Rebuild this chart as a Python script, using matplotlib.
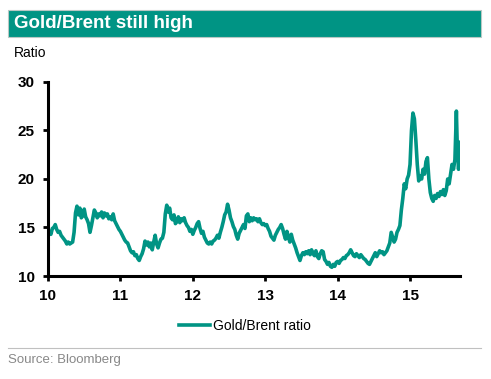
import matplotlib
matplotlib.use("Agg")
import matplotlib.pyplot as plt
from matplotlib.patches import Rectangle
from matplotlib.lines import Line2D

plt.rcParams["font.family"] = ["Liberation Sans", "DejaVu Sans"]

TEAL = "#009484"

years = [
    10.00, 10.02, 10.04, 10.06, 10.08, 10.10, 10.12, 10.14, 10.16, 10.18,
    10.20, 10.22, 10.24, 10.26, 10.28, 10.30, 10.32, 10.34, 10.36, 10.38,
    10.40, 10.42, 10.44, 10.46, 10.48, 10.50, 10.52, 10.54, 10.56, 10.58,
    10.60, 10.62, 10.64, 10.66, 10.68, 10.70, 10.72, 10.74, 10.76, 10.78,
    10.80, 10.82, 10.84, 10.86, 10.88, 10.90, 10.92, 10.94, 10.96, 10.98,
    11.00, 11.02, 11.04, 11.06, 11.08, 11.10, 11.12, 11.14, 11.16, 11.18,
    11.20, 11.22, 11.24, 11.26, 11.28, 11.30, 11.32, 11.34, 11.36, 11.38,
    11.40, 11.42, 11.44, 11.46, 11.48, 11.50, 11.52, 11.54, 11.56, 11.58,
    11.60, 11.62, 11.64, 11.66, 11.68, 11.70, 11.72, 11.74, 11.76, 11.78,
    11.80, 11.82, 11.84, 11.86, 11.88, 11.90, 11.92, 11.94, 11.96, 11.98,
    12.00, 12.02, 12.04, 12.06, 12.08, 12.10, 12.12, 12.14, 12.16, 12.18,
    12.20, 12.22, 12.24, 12.26, 12.28, 12.30, 12.32, 12.34, 12.36, 12.38,
    12.40, 12.42, 12.44, 12.46, 12.48, 12.50, 12.52, 12.54, 12.56, 12.58,
    12.60, 12.62, 12.64, 12.66, 12.68, 12.70, 12.72, 12.74, 12.76, 12.78,
    12.80, 12.82, 12.84, 12.86, 12.88, 12.90, 12.92, 12.94, 12.96, 12.98,
    13.00, 13.02, 13.04, 13.06, 13.08, 13.10, 13.12, 13.14, 13.16, 13.18,
    13.20, 13.22, 13.24, 13.26, 13.28, 13.30, 13.32, 13.34, 13.36, 13.38,
    13.40, 13.42, 13.44, 13.46, 13.48, 13.50, 13.52, 13.54, 13.56, 13.58,
    13.60, 13.62, 13.64, 13.66, 13.68, 13.70, 13.72, 13.74, 13.76, 13.78,
    13.80, 13.82, 13.84, 13.86, 13.88, 13.90, 13.92, 13.94, 13.96, 13.98,
    14.00, 14.02, 14.04, 14.06, 14.08, 14.10, 14.12, 14.14, 14.16, 14.18,
    14.20, 14.22, 14.24, 14.26, 14.28, 14.30, 14.32, 14.34, 14.36, 14.38,
    14.40, 14.42, 14.44, 14.46, 14.48, 14.50, 14.52, 14.54, 14.56, 14.58,
    14.60, 14.62, 14.64, 14.66, 14.68, 14.70, 14.72, 14.74, 14.76, 14.78,
    14.80, 14.82, 14.84, 14.86, 14.88, 14.90, 14.92, 14.94, 14.96, 14.98,
    15.00, 15.02, 15.04, 15.06, 15.08, 15.10, 15.12, 15.14, 15.16, 15.18,
    15.20, 15.22, 15.24, 15.26, 15.28, 15.30, 15.32, 15.34, 15.36, 15.38,
    15.40, 15.42, 15.44, 15.46, 15.48, 15.50, 15.52, 15.54, 15.56, 15.58,
    15.60, 15.62, 15.64, 15.65, 15.66, 15.67, 15.68, 15.69,
]

ratio = [
    14.0, 14.6, 14.3, 14.9, 15.0, 15.3, 14.8, 14.5, 14.6, 14.2,
    14.0, 13.8, 13.6, 13.3, 13.5, 13.3, 13.4, 13.5, 14.5, 16.5,
    17.2, 16.3, 17.0, 16.0, 16.2, 16.9, 16.1, 15.8, 15.4, 14.5,
    15.2, 16.0, 16.8, 16.5, 16.0, 16.4, 16.2, 16.6, 16.0, 16.5,
    16.2, 16.4, 15.9, 16.1, 15.8, 16.4, 15.7, 15.4, 15.1, 14.8,
    14.6, 14.3, 14.0, 13.7, 13.5, 13.4, 13.0, 12.6, 12.4, 12.5,
    12.1, 12.2, 11.8, 11.6, 12.0, 12.3, 12.8, 13.6, 13.2, 13.5,
    13.0, 13.4, 12.7, 13.5, 14.2, 13.3, 12.9, 13.4, 13.8, 13.9,
    14.5, 16.4, 17.3, 16.6, 17.0, 16.0, 15.8, 16.3, 15.4, 15.6,
    16.1, 15.5, 15.9, 15.7, 16.0, 15.5, 15.2, 15.0, 14.6, 14.8,
    14.3, 14.7, 15.0, 15.4, 15.6, 14.9, 14.4, 14.6, 14.0, 13.7,
    13.4, 13.3, 13.5, 13.3, 13.6, 13.7, 13.9, 14.2, 13.9, 14.5,
    15.0, 15.6, 16.3, 16.6, 17.4, 16.8, 16.0, 15.6, 15.1, 14.8,
    14.2, 13.8, 14.4, 14.7, 15.0, 15.3, 14.9, 16.2, 16.4, 15.6,
    16.0, 15.7, 16.0, 15.8, 15.9, 15.6, 15.9, 15.5, 15.3, 15.4,
    15.2, 15.3, 14.9, 14.6, 14.1, 13.9, 13.7, 14.2, 14.5, 14.8,
    15.0, 15.3, 14.9, 14.3, 13.8, 14.6, 14.0, 13.5, 14.3, 13.7,
    13.3, 12.9, 12.4, 12.0, 11.6, 12.1, 12.4, 12.2, 12.5, 12.3,
    12.6, 12.2, 12.7, 12.3, 12.1, 12.6, 12.0, 11.8, 12.3, 12.6,
    12.5, 11.7, 11.5, 11.2, 11.4, 11.0, 10.9, 11.2, 11.0, 11.4,
    11.5, 11.3, 11.6, 11.7, 11.9, 11.8, 12.1, 12.2, 12.4, 12.7,
    12.4, 12.1, 12.0, 12.3, 12.1, 11.9, 12.2, 12.0, 11.8, 11.7,
    11.5, 11.3, 11.2, 11.5, 11.8, 12.1, 12.4, 12.0, 12.3, 12.6,
    12.4, 12.5, 12.2, 12.4, 12.6, 13.0, 13.4, 14.5, 14.0, 13.5,
    13.8, 14.5, 14.8, 15.2, 16.8, 18.0, 19.5, 19.0, 20.0, 20.4,
    21.5, 25.0, 26.8, 26.2, 24.0, 21.5, 19.8, 20.3, 20.0, 21.0,
    20.5, 21.8, 22.2, 20.0, 18.6, 18.0, 17.7, 18.3, 18.0, 18.5,
    18.2, 18.7, 18.4, 18.9, 18.3, 18.8, 20.0, 19.5, 20.5, 21.5,
    21.0, 22.0, 27.0, 24.0, 23.5, 21.0, 23.8, 23.3,
]

x_ticks = [10, 11, 12, 13, 14, 15]
x_labels = ["10", "11", "12", "13", "14", "15"]
y_ticks = [10, 15, 20, 25, 30]

W, H = 491, 379
fig = plt.figure(figsize=(W / 100, H / 100), dpi=100)

# title banner
fig.patches.append(Rectangle((8 / W, 1 - 37 / H), 473 / W, 27 / H,
                             transform=fig.transFigure, facecolor=TEAL,
                             edgecolor="#b8c8c4", linewidth=0.8))
fig.text(14 / W, 1 - 23.5 / H, "Gold/Brent still high", color="white",
         fontsize=13.5, fontweight="bold", va="center", ha="left")
fig.text(14 / W, 1 - 53 / H, "Ratio", fontsize=10, va="center", ha="left")

ax = fig.add_axes([48 / W, 1 - 276 / H, 412 / W, 194 / H])
ax.plot(years, ratio, color=TEAL, linewidth=2.6, label="Gold/Brent ratio")
ax.set_xlim(10, 15.69)
ax.set_ylim(10, 30)
ax.set_xticks(x_ticks)
ax.set_xticklabels(x_labels)
ax.set_yticks(y_ticks)
for s in ["top", "right"]:
    ax.spines[s].set_visible(False)
for s in ["left", "bottom"]:
    ax.spines[s].set_linewidth(2.2)
ax.tick_params(axis="both", direction="out", length=3.5, width=2.0,
               labelsize=11, pad=6)
for lab in ax.get_xticklabels() + ax.get_yticklabels():
    lab.set_fontweight("bold")

handle = Line2D([], [], color=TEAL, linewidth=2.6)
fig.legend([handle], ["Gold/Brent ratio"], loc="center",
           bbox_to_anchor=(245 / W, 1 - 326 / H), frameon=False,
           fontsize=10, handlelength=2.2, handletextpad=0.2)

fig.add_artist(Line2D([8 / W, 481 / W], [1 - 348 / H, 1 - 348 / H],
                      transform=fig.transFigure, color="#c0c0c0", linewidth=0.8))
fig.text(8 / W, 1 - 360 / H, "Source: Bloomberg", color="#888888",
         fontsize=9.5, va="center", ha="left")

fig.savefig("out.png", dpi=100)
